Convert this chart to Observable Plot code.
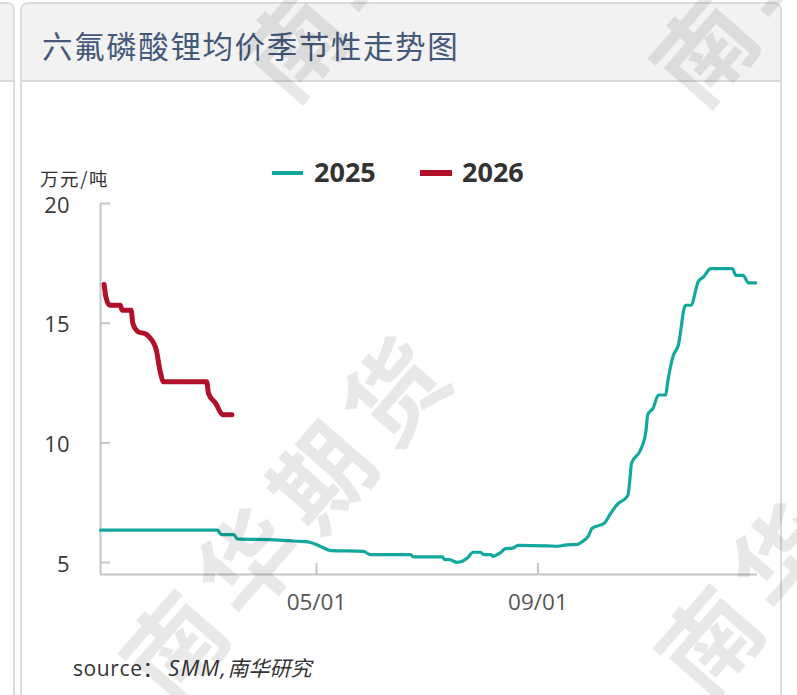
<!DOCTYPE html>
<html><head><meta charset="utf-8">
<script src="https://cdn.jsdelivr.net/npm/d3@7"></script>
<script src="https://cdn.jsdelivr.net/npm/@observablehq/plot@0.6"></script>
<style>
html,body{margin:0;padding:0;background:#fff;width:797px;height:695px;overflow:hidden;font-family:"Open Sans","Noto Sans CJK SC",sans-serif;}
#page{position:relative;width:797px;height:695px;overflow:hidden;}
.card{position:absolute;border:2px solid #dcdcdc;border-radius:8px;background:#fff;box-sizing:border-box;overflow:hidden;}
.card .hd{height:76px;background:#f2f2f2;border-bottom:2px solid #d9d9d9;}
#title{position:absolute;left:42px;top:25px;font-family:"Noto Sans CJK SC",sans-serif;font-size:30.5px;line-height:40px;color:#44597a;letter-spacing:1.6px;white-space:nowrap;}
#unit{position:absolute;left:40px;top:169px;font-family:"Noto Sans CJK SC",sans-serif;font-size:18.5px;line-height:18px;color:#333;letter-spacing:1.6px;white-space:nowrap;}
.lgline{position:absolute;}
.lgtxt{position:absolute;font-family:"Open Sans",sans-serif;font-weight:700;font-size:27px;line-height:30px;color:#333;}
#chart{position:absolute;left:0;top:150px;}
#source{position:absolute;left:73px;top:653px;font-family:"Open Sans","Noto Sans CJK SC",sans-serif;font-size:21px;line-height:28px;color:#333;white-space:nowrap;letter-spacing:0.6px;}
#source i{letter-spacing:0;padding-left:4px;}
#source i b{font-weight:400;font-size:22px;letter-spacing:1.5px;}
#wm{position:absolute;left:0;top:0;width:797px;height:695px;pointer-events:none;overflow:hidden;}
#wm span{position:absolute;font-family:"Noto Sans CJK SC",sans-serif;font-weight:700;font-size:98px;letter-spacing:14px;color:rgba(0,0,0,0.09);white-space:nowrap;transform:translate(-50%,-50%) rotate(-49deg);line-height:1;}
</style>
</head><body>
<div id="page">
  <div class="card" style="left:-200px;top:2px;width:215px;height:760px;"><div class="hd"></div></div>
  <div class="card" style="left:20px;top:2px;width:762px;height:760px;"><div class="hd"></div></div>
  <div id="title">六氟磷酸锂均价季节性走势图</div>
  <div id="unit">万元/吨</div>
  <div class="lgline" style="left:272px;top:171px;width:31px;height:4px;background:#13a89e;"></div>
  <div class="lgtxt" style="left:314px;top:157px;">2025</div>
  <div class="lgline" style="left:420px;top:170px;width:32px;height:6px;background:#b1102b;"></div>
  <div class="lgtxt" style="left:462px;top:157px;">2026</div>
  <div id="chart"></div>
  <div id="source">source：<i><b>SMM,</b>南华研究</i></div>
  <div id="wm"></div>
</div>
<script>
// ---- data ----
const dates2025 = ["2025-01-01","2025-03-07","2025-03-09","2025-03-16","2025-03-18","2025-04-08","2025-04-20","2025-04-27","2025-05-03","2025-05-09","2025-05-27","2025-05-31","2025-06-22","2025-06-24","2025-07-10","2025-07-11","2025-07-14","2025-07-18","2025-07-24","2025-07-27","2025-07-31","2025-08-02","2025-08-06","2025-08-07","2025-08-11","2025-08-14","2025-08-18","2025-08-21","2025-09-06","2025-09-12","2025-09-17","2025-09-23","2025-09-26","2025-09-29","2025-10-01","2025-10-08","2025-10-11","2025-10-15","2025-10-21","2025-10-22","2025-10-23","2025-10-28","2025-10-31","2025-11-01","2025-11-04","2025-11-07","2025-11-11","2025-11-12","2025-11-15","2025-11-18","2025-11-22","2025-11-25","2025-11-29","2025-12-02","2025-12-06","2025-12-18","2025-12-20","2025-12-24","2025-12-27","2025-12-31"];
const values2025 = [6.35,6.35,6.17,6.17,5.99,5.95,5.89,5.85,5.68,5.5,5.47,5.33,5.33,5.24,5.24,5.13,5.12,5.01,5.2,5.43,5.43,5.33,5.33,5.26,5.4,5.58,5.6,5.72,5.7,5.68,5.74,5.76,5.89,6.1,6.42,6.65,7.0,7.42,7.8,8.4,9.15,9.7,10.47,11.17,11.45,12.0,12.0,12.49,13.6,14.08,15.75,15.75,16.72,16.93,17.28,17.28,17.0,17.0,16.68,16.68];
const dates2026 = ["2026-01-03","2026-01-04","2026-01-06","2026-01-12","2026-01-13","2026-01-18","2026-01-19","2026-01-22","2026-01-26","2026-01-28","2026-02-01","2026-02-03","2026-02-05","2026-03-01","2026-03-02","2026-03-06","2026-03-10","2026-03-15"];
const values2026 = [16.62,16.1,15.75,15.75,15.54,15.54,14.99,14.64,14.55,14.43,13.88,13.04,12.55,12.55,12.07,11.65,11.17,11.17];
const seriesNames = ["2025","2026"];
const yTicks = [5,10,15,20];
const yDomain = [4.5,20];
const xTickDates = ["2025-05-01","2025-09-01"];
const xDomainDates = ["2025-01-01","2026-01-01"];
const colors = ["#13a89e","#b1102b"];
const wmText = "南华期货";

// ---- build ----
const parse = d3.utcParse("%Y-%m-%d");
const season = s => { const d = parse(s); return new Date(Date.UTC(2025, d.getUTCMonth(), d.getUTCDate())); };
const rows = [
  ...dates2025.map((d,i)=>({series:seriesNames[0], date:season(d), value:values2025[i]})),
  ...dates2026.map((d,i)=>({series:seriesNames[1], date:season(d), value:values2026[i]}))
];
const xDomain = xDomainDates.map(parse);
const xTicks = xTickDates.map(parse);
const W = 797, H = 480, mT = 53, mB = 56, mL = 100, mR = 40;
const axisColor = "#c6c6c6";

const plot = Plot.plot({
  width: W, height: H,
  marginTop: mT, marginBottom: mB, marginLeft: mL, marginRight: mR,
  style: {background:"transparent", fontFamily:'"Open Sans", sans-serif', overflow:"visible"},
  x: {type:"utc", domain: xDomain},
  y: {domain: yDomain},
  marks: [
    Plot.ruleX([xDomain[0]], {stroke: axisColor, strokeWidth: 2}),
    Plot.ruleY([yDomain[0]], {stroke: axisColor, strokeWidth: 2}),
    Plot.tickY(yTicks, {y: d=>d, stroke: axisColor, strokeWidth: 2, insetRight: W-mL-mR-10}),
    Plot.tickX(xTicks, {x: d=>d, stroke: axisColor, strokeWidth: 2, insetTop: H-mT-mB-11}),
    Plot.axisY({ticks: yTicks, tickSize: 0, tickPadding: 31, fontSize: 22, fill: "#3a3a3a", label: null, dy: 2}),
    Plot.axisX({ticks: xTicks, tickSize: 0, tickPadding: 20, fontSize: 22.5, fill: "#555", tickFormat: d3.utcFormat("%m/%d"), label: null}),
    Plot.line(rows.filter(r=>r.series===seriesNames[0]), {x:"date", y:"value", stroke: colors[0], strokeWidth: 3.2, curve:"monotone-x", strokeLinejoin:"round"}),
    Plot.line(rows.filter(r=>r.series===seriesNames[1]), {x:"date", y:"value", stroke: colors[1], strokeWidth: 5, curve:"monotone-x", strokeLinejoin:"round"})
  ]
});
document.getElementById("chart").appendChild(plot);

// watermark
const wmPos = [[405,-90],[285,510],[815,-85],[820,505]];
const wm = document.getElementById("wm");
for (const [x,y] of wmPos) {
  const s = document.createElement("span");
  s.textContent = wmText;
  s.style.left = x+"px"; s.style.top = y+"px";
  wm.appendChild(s);
}
</script>
</body></html>
